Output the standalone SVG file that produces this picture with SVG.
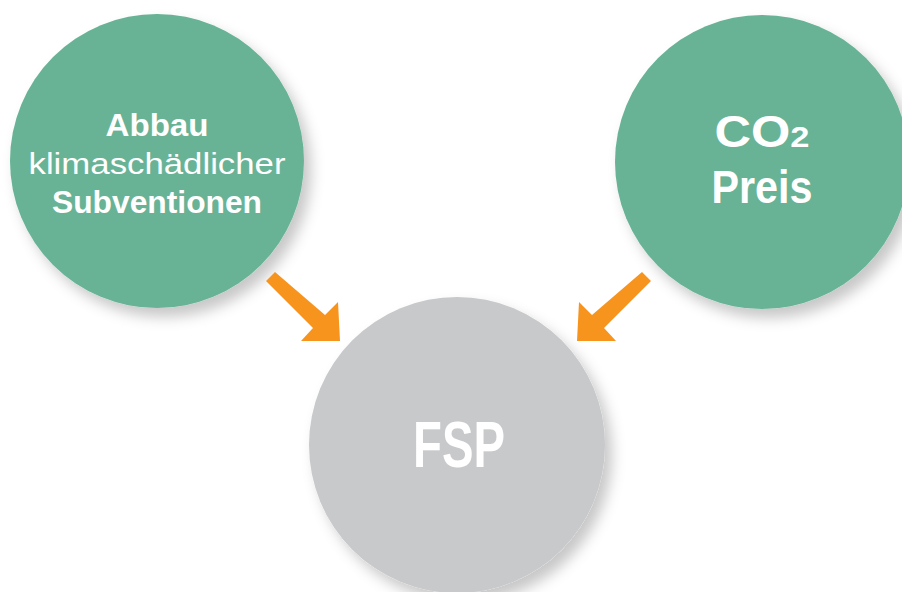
<svg xmlns="http://www.w3.org/2000/svg" width="902" height="592" viewBox="0 0 902 592">
  <defs>
    <filter id="soft-shadow" x="-20%" y="-20%" width="150%" height="150%">
      <feDropShadow dx="7" dy="9" stdDeviation="7" flood-color="#000" flood-opacity="0.22"/>
    </filter>
    <style>
      .green { fill: #68b396; filter: url(#soft-shadow); }
      .grey { fill: #c8c9cb; filter: url(#soft-shadow); }
      .arrow { fill: #f7941e; }
      .lbl { fill: #ffffff; font-family: "Liberation Sans", Arial, sans-serif; text-anchor: middle; }
      .b { font-weight: bold; }
      .light { font-weight: normal; }
    </style>
  </defs>
  <rect width="902" height="592" fill="#ffffff"/>

  <g id="subventionen">
    <circle class="green" cx="157" cy="161" r="147"/>
    <text class="lbl b" x="157" y="136" font-size="32" textLength="103" lengthAdjust="spacingAndGlyphs">Abbau</text>
    <text class="lbl light" x="157" y="174" font-size="30" textLength="257" lengthAdjust="spacingAndGlyphs">klimaschädlicher</text>
    <text class="lbl b" x="157" y="213" font-size="31" textLength="210" lengthAdjust="spacingAndGlyphs">Subventionen</text>
  </g>

  <g id="co2-preis">
    <circle class="green" cx="762" cy="162" r="147"/>
    <text class="lbl b" x="762" y="147" font-size="44" textLength="95" lengthAdjust="spacingAndGlyphs">CO<tspan font-size="30">2</tspan></text>
    <text class="lbl b" x="762" y="203" font-size="46" textLength="101" lengthAdjust="spacingAndGlyphs">Preis</text>
  </g>

  <g id="fsp">
    <circle class="grey" cx="457" cy="445" r="148"/>
    <text class="lbl b" x="459" y="467" font-size="64" textLength="92" lengthAdjust="spacingAndGlyphs">FSP</text>
  </g>

  <g id="connectors">
    <polygon class="arrow" points="275,272 325,315 338,302 340,341 301,341 313,328 266,281"/>
    <polygon class="arrow" points="642,272 592,315 579,302 577,341 616,341 604,328 651,281"/>
  </g>
</svg>
